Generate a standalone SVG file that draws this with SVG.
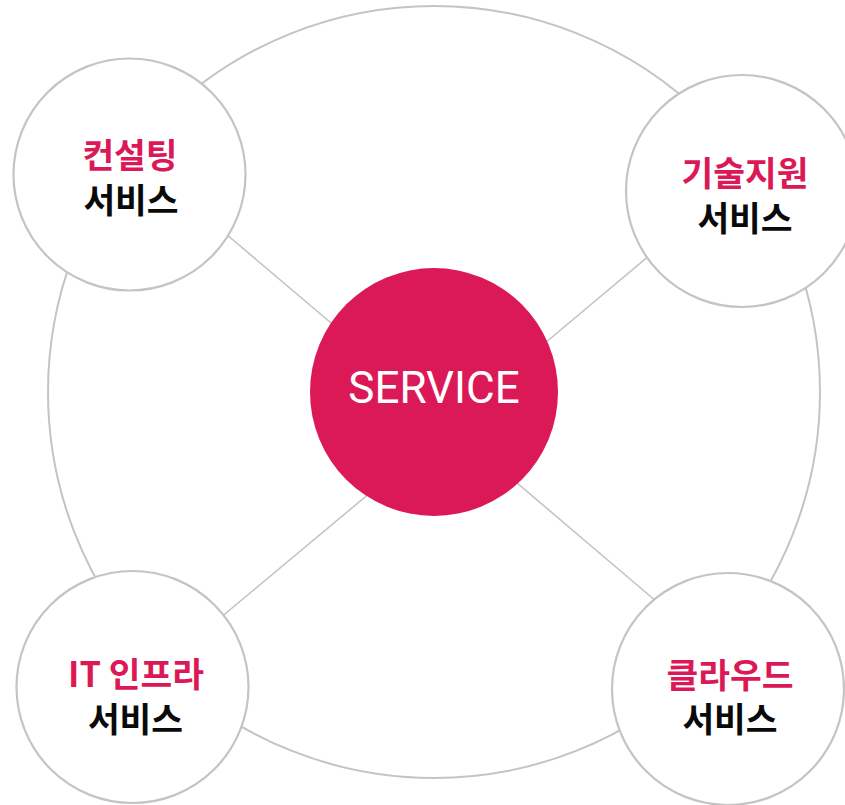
<svg xmlns="http://www.w3.org/2000/svg" width="845" height="805" viewBox="0 0 845 805">
<style>
.ring{fill:none;stroke:#c4c4c4;stroke-width:2}
.node{fill:#ffffff;stroke:#c4c4c4;stroke-width:2.2}
.link{stroke:#c4c4c4;stroke-width:1.6;fill:none}
.lbl{font-family:"Noto Sans CJK KR","Noto Sans",sans-serif;font-weight:700;font-size:34.5px;text-anchor:middle}
.red{fill:#db1957}
.blk{fill:#0a0a0a}
.core{fill:#db1957}
.coretext{font-family:Roboto,"Liberation Sans",sans-serif;font-size:44px;fill:#ffffff;text-anchor:middle}
</style>
<rect width="845" height="805" fill="#ffffff"/>
<g id="connectors">
<circle class="ring" cx="434" cy="392" r="386"/>
<line class="link" x1="200" y1="212" x2="350" y2="339"/>
<line class="link" x1="675" y1="234" x2="520" y2="364"/>
<line class="link" x1="195" y1="639" x2="395" y2="472"/>
<line class="link" x1="490" y1="460" x2="690" y2="630"/>
</g>
<g id="service">
<circle class="core" cx="434" cy="392" r="124"/>
<text class="coretext" x="434" y="403">SERVICE</text>
</g>
<g id="consulting">
<circle class="node" cx="129.5" cy="174.5" r="116"/>
<text class="lbl red" x="130" y="168">컨설팅</text>
<text class="lbl blk" x="131" y="213">서비스</text>
</g>
<g id="techsupport">
<circle class="node" cx="742" cy="191" r="116"/>
<text class="lbl red" x="745" y="186">기술지원</text>
<text class="lbl blk" x="745" y="231">서비스</text>
</g>
<g id="itinfra">
<circle class="node" cx="132.5" cy="687" r="116"/>
<text class="lbl red" x="136" y="687">IT 인프라</text>
<text class="lbl blk" x="135.5" y="732">서비스</text>
</g>
<g id="cloud">
<circle class="node" cx="728" cy="689" r="116"/>
<text class="lbl red" x="730" y="688">클라우드</text>
<text class="lbl blk" x="730" y="732">서비스</text>
</g>
</svg>
